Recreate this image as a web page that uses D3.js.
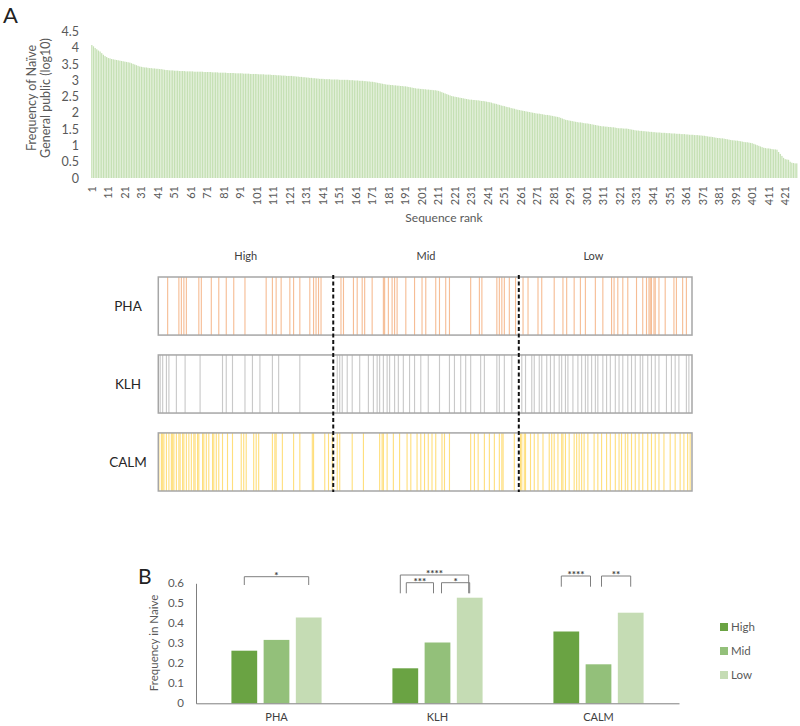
<!DOCTYPE html>
<html>
<head>
<meta charset="utf-8">
<script src="https://cdn.jsdelivr.net/npm/d3@7"></script>
<style>
  html, body { margin: 0; padding: 0; background: #fff; }
  svg { display: block; font-family: Lato, "Liberation Sans", sans-serif; }
</style>
</head>
<body>
<svg id="chart" width="800" height="726"></svg>
<script>
// ---------------- DATA ----------------
// Panel A: frequency in naive general public (log10), by sequence rank (1..428)
const freqLog10 = [
  4.09, 4.05, 4.00, 3.96, 3.92, 3.89, 3.84, 3.79, 3.75, 3.72,
  3.69, 3.68, 3.66, 3.65, 3.64, 3.63, 3.62, 3.61, 3.60, 3.59,
  3.58, 3.57, 3.56, 3.55, 3.53, 3.51, 3.49, 3.47, 3.45, 3.43,
  3.42, 3.41, 3.40, 3.40, 3.39, 3.38, 3.38, 3.37, 3.37, 3.36,
  3.36, 3.35, 3.35, 3.34, 3.33, 3.32, 3.32, 3.31, 3.31, 3.31,
  3.30, 3.30, 3.30, 3.29, 3.29, 3.29, 3.29, 3.28, 3.28, 3.28,
  3.28, 3.28, 3.27, 3.27, 3.27, 3.27, 3.27, 3.27, 3.26, 3.26,
  3.26, 3.26, 3.26, 3.25, 3.25, 3.25, 3.25, 3.24, 3.24, 3.24,
  3.24, 3.24, 3.23, 3.23, 3.23, 3.23, 3.23, 3.22, 3.22, 3.22,
  3.22, 3.22, 3.21, 3.21, 3.21, 3.21, 3.20, 3.20, 3.20, 3.20,
  3.20, 3.19, 3.19, 3.19, 3.19, 3.18, 3.18, 3.18, 3.18, 3.17,
  3.17, 3.17, 3.16, 3.16, 3.16, 3.15, 3.15, 3.15, 3.14, 3.14,
  3.14, 3.14, 3.13, 3.13, 3.12, 3.12, 3.11, 3.11, 3.10, 3.10,
  3.09, 3.09, 3.08, 3.08, 3.07, 3.07, 3.06, 3.06, 3.05, 3.05,
  3.05, 3.04, 3.04, 3.04, 3.04, 3.03, 3.03, 3.03, 3.03, 3.03,
  3.02, 3.02, 3.02, 3.02, 3.02, 3.02, 3.01, 3.01, 3.01, 3.00,
  3.00, 3.00, 2.99, 2.99, 2.99, 2.98, 2.98, 2.97, 2.97, 2.96,
  2.96, 2.95, 2.94, 2.93, 2.92, 2.91, 2.90, 2.89, 2.88, 2.87,
  2.87, 2.86, 2.86, 2.85, 2.85, 2.84, 2.84, 2.83, 2.83, 2.82,
  2.82, 2.81, 2.80, 2.79, 2.78, 2.77, 2.76, 2.75, 2.75, 2.74,
  2.74, 2.73, 2.73, 2.72, 2.72, 2.71, 2.71, 2.70, 2.70, 2.69,
  2.68, 2.66, 2.64, 2.62, 2.60, 2.58, 2.56, 2.54, 2.52, 2.51,
  2.50, 2.49, 2.48, 2.47, 2.46, 2.45, 2.44, 2.43, 2.42, 2.41,
  2.41, 2.40, 2.40, 2.39, 2.39, 2.38, 2.37, 2.37, 2.36, 2.35,
  2.34, 2.33, 2.32, 2.30, 2.29, 2.28, 2.26, 2.25, 2.23, 2.22,
  2.21, 2.19, 2.18, 2.17, 2.15, 2.14, 2.13, 2.11, 2.10, 2.09,
  2.08, 2.07, 2.06, 2.05, 2.04, 2.03, 2.02, 2.01, 2.00, 1.99,
  1.98, 1.98, 1.97, 1.96, 1.95, 1.94, 1.94, 1.93, 1.92, 1.91,
  1.90, 1.89, 1.88, 1.87, 1.85, 1.83, 1.81, 1.79, 1.78, 1.77,
  1.76, 1.75, 1.74, 1.73, 1.72, 1.71, 1.71, 1.70, 1.69, 1.68,
  1.68, 1.67, 1.66, 1.65, 1.64, 1.63, 1.62, 1.61, 1.60, 1.59,
  1.59, 1.58, 1.58, 1.57, 1.57, 1.56, 1.56, 1.55, 1.54, 1.53,
  1.53, 1.53, 1.52, 1.52, 1.52, 1.51, 1.50, 1.49, 1.48, 1.47,
  1.46, 1.46, 1.45, 1.45, 1.44, 1.44, 1.43, 1.43, 1.42, 1.42,
  1.41, 1.41, 1.40, 1.40, 1.40, 1.39, 1.39, 1.39, 1.38, 1.38,
  1.38, 1.37, 1.37, 1.37, 1.36, 1.36, 1.36, 1.35, 1.35, 1.35,
  1.34, 1.34, 1.33, 1.33, 1.33, 1.32, 1.32, 1.32, 1.31, 1.31,
  1.30, 1.30, 1.29, 1.28, 1.27, 1.27, 1.26, 1.25, 1.24, 1.23,
  1.23, 1.22, 1.22, 1.21, 1.20, 1.19, 1.18, 1.17, 1.16, 1.16,
  1.15, 1.15, 1.14, 1.13, 1.12, 1.11, 1.10, 1.10, 1.09, 1.08,
  1.07, 1.05, 1.03, 1.01, 0.99, 0.97, 0.95, 0.93, 0.92, 0.91,
  0.91, 0.90, 0.89, 0.88, 0.88, 0.87, 0.80, 0.74, 0.68, 0.62,
  0.58, 0.57, 0.56, 0.50, 0.47, 0.46, 0.45, 0.45
];
const yTicksA = [0, 0.5, 1, 1.5, 2, 2.5, 3, 3.5, 4, 4.5];
const rankLabelStep = 10;

// Barcode panels: ranks of sequences found for each antigen
const antigens = ["PHA", "KLH", "CALM"];
const tertiles = ["High", "Mid", "Low"];
const tertileEdges = [140.8, 289.6]; // rank boundaries between High/Mid and Mid/Low
const phaRanks = [8, 17, 19, 21, 23, 33, 35, 43, 49, 55, 61, 70, 87, 92, 95, 99, 106, 109, 114, 122, 125, 127, 129, 131,
  147, 149, 157, 160, 164, 166, 172, 181, 182, 185, 188, 190, 192, 199, 206, 212, 215, 223, 226, 231, 234, 251, 258, 260, 272, 274, 276, 278, 282, 287,
  293, 297, 305, 308, 318, 325, 328, 334, 339, 343, 351, 357, 364, 366, 369, 373, 377, 384, 389, 392, 394, 395, 396, 398, 399, 402, 407, 414, 416, 421, 424];
const klhRanks = [2, 4, 7, 9, 15, 22, 34, 52, 55, 60, 70, 76, 82, 92, 97, 114,
  144, 146, 148, 152, 156, 162, 169, 173, 176, 178, 181, 184, 186, 190, 193, 197, 202, 206, 211, 217, 226, 234, 238, 243, 247, 251, 259, 262, 272, 274, 278, 284,
  292, 295, 300, 302, 306, 308, 312, 315, 318, 322, 324, 327, 329, 333, 337, 340, 343, 345, 348, 351, 353, 357, 360, 363, 367, 370, 373, 377, 380, 383, 387, 389, 393, 396, 399, 402, 408, 412, 415, 418, 424, 426];
const calmRanks = [1, 3, 4, 5, 7, 9, 11, 12, 13, 15, 17, 18, 20, 21, 23, 25, 27, 29, 30, 32, 33, 36, 37, 39, 41, 44, 45, 47, 49, 52, 56, 60, 67, 69, 71, 77, 79, 81, 92, 94, 95, 100, 109, 114, 124, 125, 134, 137, 140,
  144, 146, 156, 165, 178, 180, 181, 184, 189, 194, 200, 203, 208, 211, 214, 217, 220, 223, 228, 230, 234, 251, 254, 257, 262, 266, 270, 274, 276, 277, 286,
  291, 292, 294, 295, 299, 302, 305, 309, 314, 316, 318, 321, 324, 325, 327, 330, 334, 336, 338, 340, 342, 345, 350, 353, 356, 360, 363, 367, 370, 372, 375, 377, 380, 383, 386, 389, 393, 396, 399, 402, 406, 411, 415, 419, 422, 425, 427];

// Panel B: frequency in naive by tertile
const groups = ["High", "Mid", "Low"];
const categoriesB = ["PHA", "KLH", "CALM"];
const highVals = [0.263, 0.175, 0.359];
const midVals  = [0.317, 0.304, 0.195];
const lowVals  = [0.429, 0.528, 0.453];
const yTicksB = [0, 0.1, 0.2, 0.3, 0.4, 0.5, 0.6];
const comparisons = [
  { cat: "PHA",  a: "High", b: "Low", label: "*",    level: "outer" },
  { cat: "KLH",  a: "High", b: "Low", label: "****", level: "outer" },
  { cat: "KLH",  a: "High", b: "Mid", label: "***",  level: "inner" },
  { cat: "KLH",  a: "Mid",  b: "Low", label: "*",    level: "inner" },
  { cat: "CALM", a: "High", b: "Mid", label: "****", level: "single" },
  { cat: "CALM", a: "Mid",  b: "Low", label: "**",   level: "single" }
];

// ---------------- DRAWING ----------------
const svg = d3.select("#chart");
const textCol = "#404040", axisTextCol = "#595959";

// ===== Panel A: ranked bar chart =====
const nRanks = freqLog10.length;
const ranks = d3.range(1, nRanks + 1);
const xA = d3.scaleBand().domain(ranks).range([91.2, 797.4]).paddingInner(0.24).paddingOuter(0);
const yA = d3.scaleLinear().domain([0, 4.5]).range([178, 31.7]);

svg.append("text").attr("x", 3).attr("y", 23).attr("font-size", 22).attr("fill", "#222").text("A");

svg.append("g").selectAll("rect").data(ranks).join("rect")
  .attr("x", d => xA(d)).attr("width", xA.bandwidth())
  .attr("y", d => yA(freqLog10[d - 1]))
  .attr("height", d => yA(0) - yA(freqLog10[d - 1]))
  .attr("fill", "#c5e0b4");

const gyA = svg.append("g").attr("transform", "translate(88,0)")
  .call(d3.axisLeft(yA).tickValues(yTicksA).tickSize(0).tickPadding(9).tickFormat(d3.format("")));
gyA.select(".domain").remove();
gyA.selectAll("text").attr("font-size", 12.5).attr("fill", axisTextCol).attr("font-family", "Lato, sans-serif");

const gxA = svg.append("g").attr("transform", `translate(0,${yA(0)})`)
  .call(d3.axisBottom(xA).tickValues(ranks.filter(r => (r - 1) % rankLabelStep === 0)).tickSize(0));
gxA.select(".domain").remove();
gxA.selectAll("text")
  .attr("transform", "rotate(-90)").attr("x", -8).attr("y", 0).attr("dy", "0.35em")
  .attr("text-anchor", "end").attr("font-size", 11).attr("fill", axisTextCol).attr("font-family", "Lato, sans-serif");

svg.append("text").attr("x", 444).attr("y", 222).attr("text-anchor", "middle")
  .attr("font-size", 12).attr("fill", axisTextCol).text("Sequence rank");

const yTitleA = svg.append("text").attr("transform", "translate(0,98) rotate(-90)")
  .attr("text-anchor", "middle").attr("font-size", 12.5).attr("fill", axisTextCol);
yTitleA.append("tspan").attr("x", 0).attr("y", 35.5).text("Frequency of Naïve");
yTitleA.append("tspan").attr("x", 0).attr("y", 49.5).text("General public (log10)");

// ===== Barcode panels =====
const xBar = d3.scaleLinear().domain([0.5, nRanks + 0.5]).range([158.3, 692]);
const step = xBar(2) - xBar(1);
const rowY = d3.scaleBand().domain(antigens).range([277, 491]).paddingInner(0.255).paddingOuter(0);
const rankSets = { PHA: phaRanks, KLH: klhRanks, CALM: calmRanks };
const barColors = { PHA: "#f4b183", KLH: "#bfbfbf", CALM: "#ffd966" };

// tertile labels
const tertileBounds = [0.5, tertileEdges[0], tertileEdges[1], nRanks + 0.5];
svg.append("g").selectAll("text").data(tertiles).join("text")
  .attr("x", (d, i) => (xBar(tertileBounds[i]) + xBar(tertileBounds[i + 1])) / 2 - (i === 2 ? 12 : 0))
  .attr("y", 260).attr("text-anchor", "middle").attr("font-size", 11).attr("fill", textCol).text(d => d);

antigens.forEach(a => {
  const y0 = rowY(a), h = rowY.bandwidth();
  const g = svg.append("g");
  g.selectAll("rect.bc").data(rankSets[a]).join("rect").attr("class", "bc")
    .attr("x", d => xBar(d) - step * 0.45).attr("width", step * 0.9)
    .attr("y", y0).attr("height", h)
    .attr("fill", barColors[a]).attr("fill-opacity", 0.85);
  g.append("rect").attr("x", xBar(0.5)).attr("y", y0).attr("width", xBar(nRanks + 0.5) - xBar(0.5)).attr("height", h)
    .attr("fill", "none").attr("stroke", "#a6a6a6").attr("stroke-width", 1.5);
  svg.append("text").attr("x", 128).attr("y", y0 + h / 2).attr("dy", "0.35em").attr("text-anchor", "middle")
    .attr("font-size", 13.5).attr("fill", "#262626").text(a);
});

svg.append("g").selectAll("line").data(tertileEdges).join("line")
  .attr("x1", d => xBar(d)).attr("x2", d => xBar(d))
  .attr("y1", rowY("PHA") - 2).attr("y2", rowY("CALM") + rowY.bandwidth() + 1)
  .attr("stroke", "#111").attr("stroke-width", 2).attr("stroke-dasharray", "4,2.5");

// ===== Panel B: grouped bar chart =====
const valsByGroup = { High: highVals, Mid: midVals, Low: lowVals };
const x0 = d3.scaleBand().domain(categoriesB).range([196, 679]).paddingInner(0).paddingOuter(0);
const x1 = d3.scaleBand().domain(groups).range([0, x0.bandwidth()]).paddingInner(0.2).paddingOuter(1.1);
const yB = d3.scaleLinear().domain([0, 0.6]).range([703.3, 583.3]);
const colB = { High: "#6aa343", Mid: "#93c07a", Low: "#c5dcb4" };

svg.append("text").attr("x", 138).attr("y", 584).attr("font-size", 21).attr("fill", "#222").text("B");

svg.append("g").selectAll("g").data(categoriesB).join("g")
  .attr("transform", d => `translate(${x0(d)},0)`)
  .selectAll("rect").data((c, ci) => groups.map(gname => ({ gname, v: valsByGroup[gname][ci] }))).join("rect")
  .attr("x", d => x1(d.gname)).attr("width", x1.bandwidth())
  .attr("y", d => yB(d.v)).attr("height", d => yB(0) - yB(d.v))
  .attr("fill", d => colB[d.gname]);

const gyB = svg.append("g").attr("transform", "translate(196,0)")
  .call(d3.axisLeft(yB).tickValues(yTicksB).tickSize(0).tickPadding(12).tickFormat(d3.format("")));
gyB.select(".domain").attr("stroke", "#7f7f7f");
gyB.selectAll("text").attr("font-size", 11.5).attr("fill", axisTextCol).attr("font-family", "Lato, sans-serif");

const gxB = svg.append("g").attr("transform", `translate(0,${yB(0)})`)
  .call(d3.axisBottom(x0).tickSize(0).tickPadding(10));
gxB.select(".domain").attr("stroke", "#7f7f7f");
gxB.selectAll("text").attr("font-size", 11).attr("fill", textCol).attr("font-family", "Lato, sans-serif");

svg.append("text").attr("transform", "translate(158,643) rotate(-90)")
  .attr("text-anchor", "middle").attr("font-size", 11.5).attr("fill", axisTextCol).text("Frequency in Naive");

// significance brackets
const barCenter = (c, gname) => x0(c) + x1(gname) + x1.bandwidth() / 2;
const bracketG = svg.append("g");
comparisons.forEach(cmp => {
  let xa = barCenter(cmp.cat, cmp.a), xb = barCenter(cmp.cat, cmp.b);
  let top, bottom;
  if (cmp.level === "outer" && cmp.cat === "PHA") { top = 576.7; bottom = 585; }
  else if (cmp.level === "outer") { top = 575; bottom = 593.3; xa -= 5; xb -= 1; }
  else if (cmp.level === "inner") {
    top = 582.7; bottom = 593.3;
    if (cmp.a === "Mid") { xa += 4; } else { xb -= 4; xa += 1; }
  } else {
    top = 576; bottom = 586.7;
    if (cmp.a === "Mid") { xa += 3; } else { xa -= 5; xb -= 8; }
  }
  bracketG.append("path")
    .attr("d", `M${xa},${bottom}V${top}H${xb}V${bottom}`)
    .attr("fill", "none").attr("stroke", "#7f7f7f").attr("stroke-width", 1);
  bracketG.append("text").attr("x", (xa + xb) / 2).attr("y", top + 2).attr("text-anchor", "middle")
    .attr("font-size", 10).attr("font-weight", "bold").attr("fill", "#404040").text(cmp.label);
});

// legend
const legB = svg.append("g").selectAll("g").data(groups).join("g")
  .attr("transform", (d, i) => `translate(720,${627 + i * 24})`);
legB.append("rect").attr("x", 0).attr("y", -4).attr("width", 8).attr("height", 8).attr("fill", d => colB[d]);
legB.append("text").attr("x", 11).attr("y", 0).attr("dy", "0.35em").attr("font-size", 11.5)
  .attr("fill", axisTextCol).text(d => d);
</script>
</body>
</html>
